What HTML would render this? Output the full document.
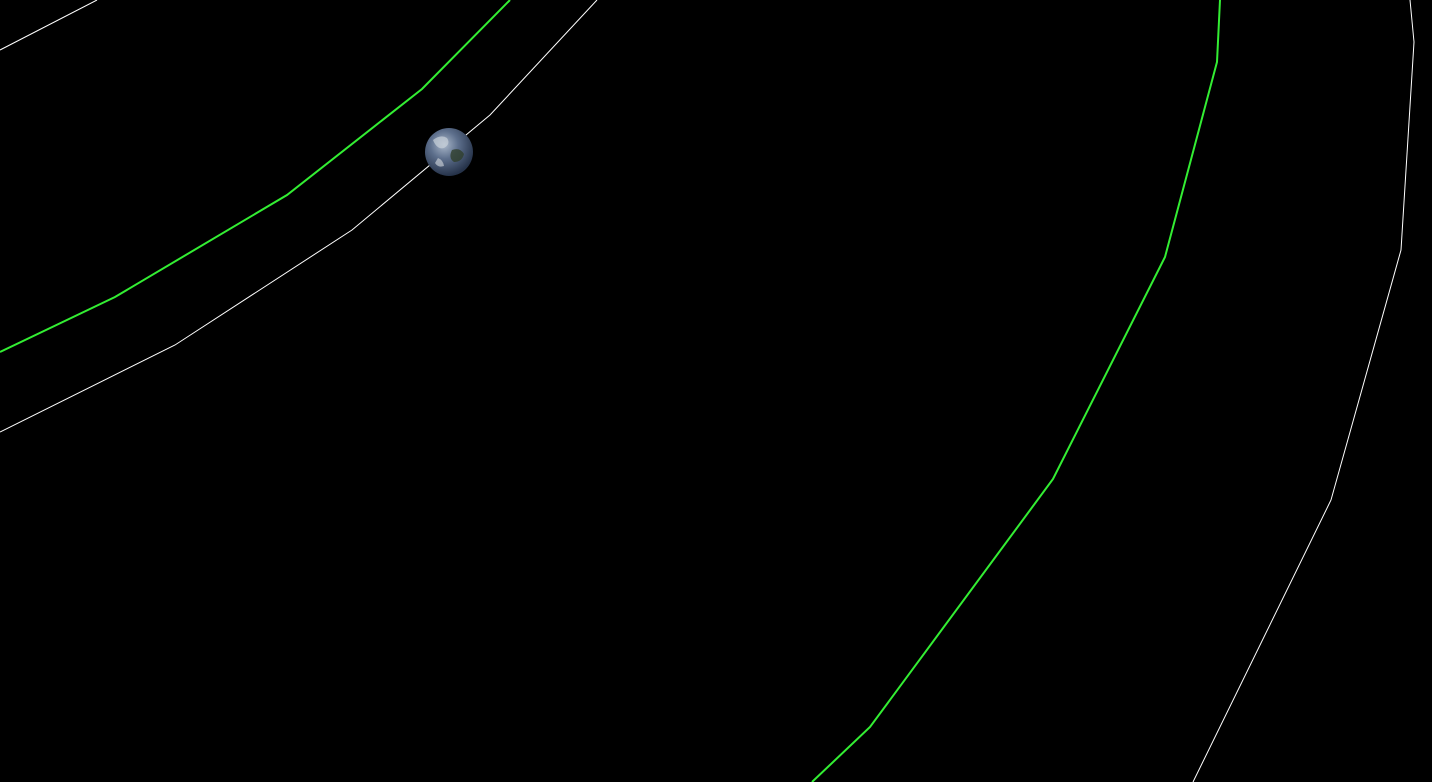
<!DOCTYPE html>
<html>
<head>
<meta charset="utf-8">
<style>
html,body{margin:0;padding:0;background:#000;width:1432px;height:782px;overflow:hidden;}
svg{display:block;}
</style>
</head>
<body>
<svg id="scene" width="1432" height="782" viewBox="0 0 1432 782" xmlns="http://www.w3.org/2000/svg">
<defs>
<radialGradient id="earthGrad" cx="40%" cy="35%" r="65%">
<stop offset="0%" stop-color="#a9b7c9"/>
<stop offset="45%" stop-color="#5d6f8c"/>
<stop offset="100%" stop-color="#26334a"/>
</radialGradient>
</defs>
<rect width="1432" height="782" fill="#000"/>
<g id="orbits"></g>
<g>
<circle cx="449" cy="152" r="24" fill="url(#earthGrad)"/>
<path d="M433 140 q8 -6 14 -2 q4 6 -3 10 q-7 2 -11 -8z" fill="#c9d2da" opacity="0.7"/>
<path d="M452 150 q8 -3 12 4 q-2 8 -10 8 q-6 -4 -2 -12z" fill="#2f3e2c" opacity="0.8"/>
<path d="M438 158 q5 2 6 8 q-6 2 -9 -3z" fill="#d5dbe0" opacity="0.6"/>
</g>
</svg>
<script>
// orbit path vertices (screen-space samples of the projected orbits)
const whiteOuterLeft = [[0,50],[97,0]];
const whiteInnerLeft = [[0,432],[175,345],[352,230],[490,115],[597,0]];
const greenLeft = [[0,352],[115,297],[287,195],[422,89],[510,0]];
const greenRight = [[1220,0],[1217,62],[1165,257],[1053,479],[870,727],[812,782]];
const whiteRight = [[1410,0],[1414,42],[1401,250],[1331,500],[1193,782]];

const g = document.getElementById('orbits');
const NS = 'http://www.w3.org/2000/svg';
function draw(pts, color, w, name){
  const p = document.createElementNS(NS,'polyline');
  p.setAttribute('points', pts.map(q=>q.join(',')).join(' '));
  p.setAttribute('fill','none');
  p.setAttribute('stroke',color);
  p.setAttribute('stroke-width',w);
  
  
  g.appendChild(p);
}
draw(whiteOuterLeft,'#ffffff',1,'white-orbit-outer-left');
draw(whiteInnerLeft,'#ffffff',1,'white-orbit-left');
draw(greenLeft,'#33ee33',2,'green-orbit-left');
draw(greenRight,'#33ee33',2,'green-orbit-right');
draw(whiteRight,'#ffffff',1,'white-orbit-right');
</script>
</body>
</html>
